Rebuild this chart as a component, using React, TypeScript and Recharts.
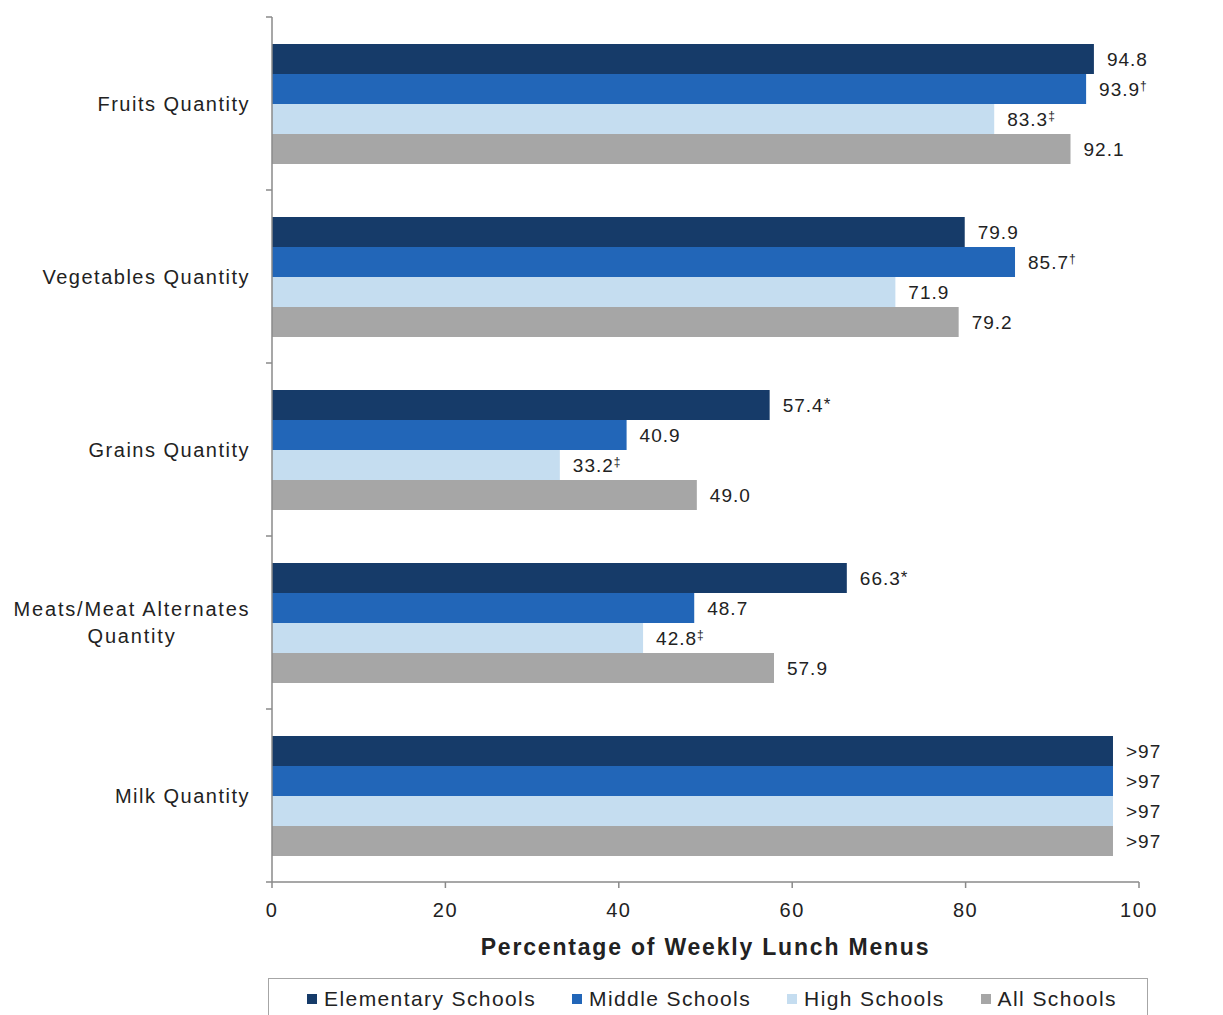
import React from "react";
import { BarChart, Bar, XAxis, YAxis, Legend, LabelList, Label } from "recharts";

const categories = [
  "Fruits Quantity",
  "Vegetables Quantity",
  "Grains Quantity",
  "Meats/Meat Alternates\nQuantity",
  "Milk Quantity",
];
const elementary = [94.8, 79.9, 57.4, 66.3, 97];
const middle = [93.9, 85.7, 40.9, 48.7, 97];
const high = [83.3, 71.9, 33.2, 42.8, 97];
const allSchools = [92.1, 79.2, 49.0, 57.9, 97];

const elementaryLabels = ["94.8", "79.9", "57.4", "66.3", ">97"];
const elementaryMarks = ["", "", "*", "*", ""];
const middleLabels = ["93.9", "85.7", "40.9", "48.7", ">97"];
const middleMarks = ["†", "†", "", "", ""];
const highLabels = ["83.3", "71.9", "33.2", "42.8", ">97"];
const highMarks = ["‡", "", "‡", "‡", ""];
const allLabels = ["92.1", "79.2", "49.0", "57.9", ">97"];
const allMarks = ["", "", "", "", ""];

const xTicks = [0, 20, 40, 60, 80, 100];

const seriesNames = ["Elementary Schools", "Middle Schools", "High Schools", "All Schools"];
const colors = ["#163B69", "#2266B8", "#C5DDF0", "#A6A6A6"];

const data = categories.map((name, i) => ({
  name,
  elementary: elementary[i],
  middle: middle[i],
  high: high[i],
  all: allSchools[i],
}));

const FONT = '"Liberation Sans", Arial, sans-serif';
const CHART_W = 1223;
const CHART_H = 1015;
const MARGIN = { top: 17, right: 84, bottom: 0, left: 0 };
const X_AXIS_H = 96;
const LEGEND_H = 37;
const BAND = (CHART_H - MARGIN.top - X_AXIS_H - LEGEND_H) / categories.length;
const AXIS_COLOR = "#8a8a8a";
const TEXT_COLOR = "#222";

const CategoryTick = (props: any) => {
  const { x, y, payload, index } = props;
  const lines = String(payload.value).split("\n");
  const axisX = x + 22;
  const top = y - BAND / 2;
  const bottom = y + BAND / 2;
  return (
    <g>
      <line x1={axisX - 6} x2={axisX} y1={top} y2={top} stroke={AXIS_COLOR} strokeWidth={1.5} />
      {index === categories.length - 1 && (
        <line x1={axisX - 6} x2={axisX} y1={bottom} y2={bottom} stroke={AXIS_COLOR} strokeWidth={1.5} />
      )}
      {lines.length === 1 ? (
        <text x={x} y={y} dy="0.35em" textAnchor="end" fontSize={20} fill={TEXT_COLOR} fontFamily={FONT} style={{ letterSpacing: "1.5px" }}>
          {lines[0]}
        </text>
      ) : (
        <text x={x - 118} y={y - 13.5} textAnchor="middle" fontSize={20} fill={TEXT_COLOR} fontFamily={FONT} style={{ letterSpacing: "1.8px" }}>
          {lines.map((l, i) => (
            <tspan key={i} x={x - 118} dy={i === 0 ? "0.35em" : 27}>
              {l}
            </tspan>
          ))}
        </text>
      )}
    </g>
  );
};

const makeLabel = (labels: string[], marks: string[]) => (props: any) => {
  const { x, y, width, height, index } = props;
  const tx = Number(x) + Number(width) + 13;
  const ty = Number(y) + Number(height) / 2;
  const mark = marks[index];
  const isStar = mark === "*";
  return (
    <text x={tx} y={ty} dy="0.38em" fontSize={19} fill={TEXT_COLOR} fontFamily={FONT} style={{ letterSpacing: "1px" }}>
      {labels[index]}
      {mark ? (
        <tspan fontSize={isStar ? 17 : 12} dy={isStar ? -2 : -6}>
          {mark}
        </tspan>
      ) : null}
    </text>
  );
};

const LegendContent = () => (
  <div
    style={{
      boxSizing: "border-box",
      width: "100%",
      height: "100%",
      border: "1.5px solid #a6a6a6",
      borderBottom: "none",
      display: "flex",
      alignItems: "center",
      justifyContent: "center",
      paddingLeft: 8,
      paddingTop: 4,
      fontFamily: FONT,
      fontSize: 21,
      color: TEXT_COLOR,
    }}
  >
    {seriesNames.map((n, i) => (
      <div key={n} style={{ display: "flex", alignItems: "center", marginRight: i < seriesNames.length - 1 ? 36 : 0 }}>
        <span style={{ display: "inline-block", width: 10, height: 10, background: colors[i], marginRight: 7 }} />
        <span style={{ letterSpacing: "1.4px", whiteSpace: "nowrap" }}>{n}</span>
      </div>
    ))}
  </div>
);

export default function App() {
  return (
    <div style={{ position: "absolute", left: 0, top: 0, width: CHART_W, height: CHART_H, overflow: "hidden", background: "#fff" }}>
      <BarChart
        width={CHART_W}
        height={CHART_H}
        data={data}
        layout="vertical"
        margin={MARGIN}
        barGap={0}
        barSize={30}
        style={{ fontFamily: FONT }}
      >
        <XAxis
          type="number"
          domain={[0, 100]}
          ticks={xTicks}
          height={X_AXIS_H}
          tickSize={6}
          tickMargin={15}
          axisLine={{ stroke: AXIS_COLOR, strokeWidth: 1.5 }}
          tickLine={{ stroke: AXIS_COLOR, strokeWidth: 1.5 }}
          tick={{ fontSize: 20, fill: TEXT_COLOR, fontFamily: FONT, style: { letterSpacing: "1.5px" } } as any}
        >
          <Label
            value="Percentage of Weekly Lunch Menus"
            position="insideBottom"
            offset={23}
            fontSize={23}
            fontWeight="bold"
            fill={TEXT_COLOR}
            fontFamily={FONT}
            style={{ letterSpacing: "1.8px" }}
          />
        </XAxis>
        <YAxis
          type="category"
          dataKey="name"
          width={272}
          tickLine={false}
          tickSize={6}
          tickMargin={16}
          axisLine={{ stroke: AXIS_COLOR, strokeWidth: 1.5 }}
          tick={<CategoryTick />}
          interval={0}
        />
        <Legend
          verticalAlign="bottom"
          height={LEGEND_H}
          content={<LegendContent />}
          wrapperStyle={{ left: 268, width: 880, top: CHART_H - LEGEND_H, height: LEGEND_H }}
        />
        <Bar dataKey="elementary" name={seriesNames[0]} fill={colors[0]} isAnimationActive={false}>
          <LabelList content={makeLabel(elementaryLabels, elementaryMarks)} />
        </Bar>
        <Bar dataKey="middle" name={seriesNames[1]} fill={colors[1]} isAnimationActive={false}>
          <LabelList content={makeLabel(middleLabels, middleMarks)} />
        </Bar>
        <Bar dataKey="high" name={seriesNames[2]} fill={colors[2]} isAnimationActive={false}>
          <LabelList content={makeLabel(highLabels, highMarks)} />
        </Bar>
        <Bar dataKey="all" name={seriesNames[3]} fill={colors[3]} isAnimationActive={false}>
          <LabelList content={makeLabel(allLabels, allMarks)} />
        </Bar>
      </BarChart>
    </div>
  );
}
